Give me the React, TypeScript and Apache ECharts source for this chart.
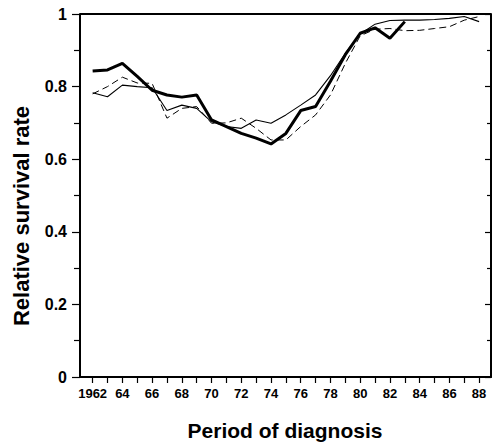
import React, { useEffect, useRef } from "react";
import * as echarts from "echarts";

const thickYears = [1962, 1963, 1964, 1965, 1966, 1967, 1968, 1969, 1970, 1971, 1972, 1973, 1974, 1975, 1976, 1977, 1978, 1979, 1980, 1981, 1982, 1983];
const thickValues = [0.843, 0.846, 0.864, 0.828, 0.79, 0.777, 0.771, 0.777, 0.708, 0.69, 0.671, 0.658, 0.642, 0.671, 0.734, 0.745, 0.815, 0.888, 0.947, 0.962, 0.933, 0.979];

const fullYears = [1962, 1963, 1964, 1965, 1966, 1967, 1968, 1969, 1970, 1971, 1972, 1973, 1974, 1975, 1976, 1977, 1978, 1979, 1980, 1981, 1982, 1983, 1984, 1985, 1986, 1987, 1988];
const thinValues = [0.783, 0.772, 0.804, 0.8, 0.797, 0.734, 0.749, 0.74, 0.703, 0.69, 0.685, 0.708, 0.699, 0.722, 0.749, 0.777, 0.83, 0.892, 0.945, 0.972, 0.982, 0.983, 0.983, 0.985, 0.988, 0.993, 0.979];
const dashedValues = [0.78, 0.8, 0.826, 0.81, 0.809, 0.713, 0.74, 0.745, 0.699, 0.7, 0.713, 0.685, 0.653, 0.653, 0.69, 0.722, 0.777, 0.864, 0.94, 0.958, 0.96, 0.954, 0.955, 0.96, 0.965, 0.983, 0.993];

const tickYears = fullYears;
const labelYears = [1962, 1964, 1966, 1968, 1970, 1972, 1974, 1976, 1978, 1980, 1982, 1984, 1986, 1988];

const yTitle = "Relative survival rate";
const xTitle = "Period of diagnosis";

const FONT = "'Liberation Sans', Arial, Helvetica, sans-serif";

export default function App() {
  const ref = useRef<HTMLDivElement>(null);
  useEffect(() => {
    if (!ref.current) return;
    const chart = echarts.init(ref.current, undefined, { renderer: "svg" });
    const pair = (ys: number[], vs: number[]) => ys.map((y, i) => [y, vs[i]]);
    chart.setOption({
      animation: false,
      backgroundColor: "#ffffff",
      grid: { left: 80, right: 3, top: 14, bottom: 70, containLabel: false },
      xAxis: {
        type: "value",
        min: 1961.15,
        max: 1988.8,
        axisLine: { show: true, onZero: false, lineStyle: { color: "#000", width: 2 } },
        axisTick: { show: true, inside: false, length: 6, customValues: tickYears, lineStyle: { color: "#000", width: 1.2 } },
        axisLabel: {
          show: true,
          customValues: labelYears,
          formatter: (v: number) => (v === 1962 ? "1962" : String(v).slice(2)),
          color: "#000",
          fontFamily: FONT,
          fontWeight: "bold",
          fontSize: 13,
          margin: 10,
        },
        splitLine: { show: false },
      },
      yAxis: [
        {
          type: "value",
          min: 0,
          max: 1,
          interval: 0.2,
          position: "left",
          axisLine: { show: true, lineStyle: { color: "#000", width: 2 } },
          axisTick: { show: true, inside: false, length: 8, lineStyle: { color: "#000", width: 1.2 } },
          minorTick: { show: true, splitNumber: 2, length: 6, lineStyle: { color: "#000", width: 1.2 } },
          axisLabel: {
            color: "#000",
            fontFamily: FONT,
            fontWeight: "bold",
            fontSize: 16,
            margin: 13,
            formatter: (v: number) => (v === 0 || v === 1 ? String(v) : v.toFixed(1)),
          },
          splitLine: { show: false },
        },
        {
          type: "value",
          min: 0,
          max: 1,
          interval: 0.2,
          position: "right",
          axisLine: { show: true, lineStyle: { color: "#000", width: 2 } },
          axisTick: { show: true, inside: true, length: 6, lineStyle: { color: "#000", width: 1.2 } },
          minorTick: { show: true, splitNumber: 2, length: 4, lineStyle: { color: "#000", width: 1.2 } },
          axisLabel: { show: false },
          splitLine: { show: false },
        },
      ],
      graphic: [
        {
          type: "line",
          shape: { x1: 80, y1: 14, x2: 491, y2: 14 },
          style: { stroke: "#000", lineWidth: 2 },
        },
        {
          type: "text",
          x: 21,
          y: 216,
          rotation: Math.PI / 2,
          style: {
            text: yTitle,
            fill: "#000",
            font: `bold 22px ${FONT}`,
            align: "center",
            verticalAlign: "middle",
          },
        },
        {
          type: "text",
          x: 285,
          y: 430,
          style: {
            text: xTitle,
            fill: "#000",
            font: `bold 21px ${FONT}`,
            align: "center",
            verticalAlign: "middle",
          },
        },
      ],
      series: [
        {
          type: "line",
          name: "dashed",
          data: pair(fullYears, dashedValues),
          showSymbol: false,
          symbol: "none",
          lineStyle: { color: "#000", width: 1, type: [7, 4] },
          z: 2,
        },
        {
          type: "line",
          name: "thin",
          data: pair(fullYears, thinValues),
          showSymbol: false,
          symbol: "none",
          lineStyle: { color: "#000", width: 1.1 },
          z: 3,
        },
        {
          type: "line",
          name: "thick",
          data: pair(thickYears, thickValues),
          showSymbol: false,
          symbol: "none",
          lineStyle: { color: "#000", width: 3 },
          z: 4,
        },
      ],
    });
    return () => chart.dispose();
  }, []);
  return (
    <div
      ref={ref}
      style={{ position: "fixed", left: 0, top: 0, width: 494, height: 447 }}
    />
  );
}
